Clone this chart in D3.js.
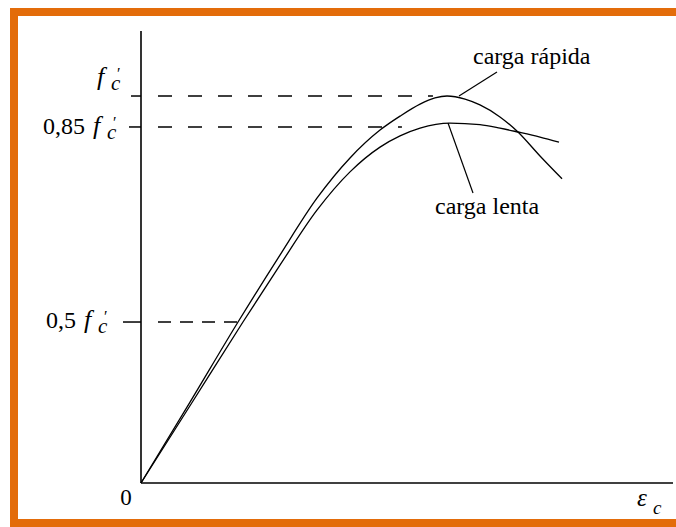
<!DOCTYPE html>
<html>
<head>
<meta charset="utf-8">
<script src="https://cdn.jsdelivr.net/npm/d3@7"></script>
<style>
  html, body { margin: 0; padding: 0; background: #fff; }
  svg { display: block; }
</style>
</head>
<body>
<svg id="chart" width="676" height="527"></svg>
<script>
// Stress–strain curves of concrete under fast and slow loading.
// Strain in ‰, stress relative to f'c (f'c = 1).
const strainRapida = [0, 0.387, 0.766, 1.097, 1.389, 1.650, 1.887, 2.045, 2.203, 2.321, 2.416, 2.558, 2.676, 2.834, 2.976, 3.150, 3.324];
const stressRapida = [0, 0.209, 0.416, 0.589, 0.736, 0.840, 0.912, 0.948, 0.979, 0.995, 1.0, 0.992, 0.977, 0.946, 0.907, 0.845, 0.786];

const strainLenta = [0, 0.403, 0.805, 1.097, 1.389, 1.650, 1.887, 2.045, 2.203, 2.439, 2.676, 2.834, 2.976, 3.150, 3.300];
const stressLenta = [0, 0.208, 0.416, 0.563, 0.705, 0.804, 0.868, 0.897, 0.917, 0.930, 0.926, 0.917, 0.907, 0.894, 0.881];

// Reference stress levels on the vertical axis and where their dashed guide ends
const refPrefix = ["0,5", "0,85", ""];
const refLevel  = [0.416, 0.92, 1.0];
const refEnd    = [0.805, 2.06, 2.305];

const FONT = "Liberation Serif, Times New Roman, serif";
const svg = d3.select("#chart").attr("font-family", FONT);
const orange = "#E36C0A";

// frame
svg.append("rect")
  .attr("x", 14).attr("y", 12).attr("width", 700).attr("height", 511)
  .attr("fill", "none").attr("stroke", orange).attr("stroke-width", 8);

const x = d3.scaleLinear().domain([0, 4.2]).range([141, 673]);
const y = d3.scaleLinear().domain([0, 1.168]).range([483, 31]);

// axes (plain lines, no numeric ticks)
svg.append("line")
  .attr("x1", x(0)).attr("x2", x(0)).attr("y1", y(0)).attr("y2", y(1.168))
  .attr("stroke", "#000").attr("stroke-width", 1.6);
svg.append("line")
  .attr("x1", x(0)).attr("x2", x(4.2)).attr("y1", y(0)).attr("y2", y(0))
  .attr("stroke", "#000").attr("stroke-width", 1.6);

// reference levels: ticks and dashed guides
const tickLen = [18, 12, 10];
const dash = ["13,9", "14,16", "14,16"];
refLevel.forEach((v, i) => {
  svg.append("line")
    .attr("x1", x(0) - tickLen[i]).attr("x2", x(0))
    .attr("y1", y(v)).attr("y2", y(v))
    .attr("stroke", "#000").attr("stroke-width", 1.5);
  svg.append("line")
    .attr("x1", x(0) + 17).attr("x2", x(refEnd[i]))
    .attr("y1", y(v)).attr("y2", y(v))
    .attr("stroke", "#000").attr("stroke-width", 1.5)
    .attr("stroke-dasharray", dash[i]);
});

// labels  "k f′c"
function fcLabel(prefix, fx, base) {
  if (prefix) {
    svg.append("text").attr("x", fx - 8).attr("y", base)
      .attr("text-anchor", "end").attr("font-size", 24).text(prefix);
  }
  svg.append("text").attr("x", fx).attr("y", base)
    .attr("font-size", 26).attr("font-style", "italic").text("f");
  svg.append("text").attr("x", fx + 20).attr("y", base - 6)
    .attr("font-size", 16).text("′");
  svg.append("text").attr("x", fx + 14).attr("y", base + 5)
    .attr("font-size", 21).attr("font-style", "italic").text("c");
}
fcLabel(refPrefix[0], 84, y(refLevel[0]) + 6);
fcLabel(refPrefix[1], 93, y(refLevel[1]) + 7);
fcLabel(refPrefix[2], 97, 85);

// origin and strain-axis labels
svg.append("text").attr("x", 126).attr("y", 505)
  .attr("text-anchor", "middle").attr("font-size", 23).text("0");
svg.append("text").attr("x", 637).attr("y", 506)
  .attr("font-size", 25).attr("font-style", "italic").text("ε");
svg.append("text").attr("x", 653).attr("y", 514)
  .attr("font-size", 19).attr("font-style", "italic").text("c");

// curves
const line = d3.line()
  .x(d => x(d[0])).y(d => y(d[1]))
  .curve(d3.curveMonotoneX);

svg.append("path")
  .datum(d3.zip(strainRapida, stressRapida))
  .attr("d", line)
  .attr("fill", "none").attr("stroke", "#000").attr("stroke-width", 1.3);
svg.append("path")
  .datum(d3.zip(strainLenta, stressLenta))
  .attr("d", line)
  .attr("fill", "none").attr("stroke", "#000").attr("stroke-width", 1.3);

// annotations with leader lines
svg.append("line")
  .attr("x1", 459).attr("y1", 96).attr("x2", 497).attr("y2", 72)
  .attr("stroke", "#000").attr("stroke-width", 1.2);
svg.append("text").attr("x", 473).attr("y", 64).attr("font-size", 24).text("carga rápida");

svg.append("line")
  .attr("x1", 448).attr("y1", 123).attr("x2", 473).attr("y2", 193)
  .attr("stroke", "#000").attr("stroke-width", 1.2);
svg.append("text").attr("x", 435).attr("y", 214).attr("font-size", 24).text("carga lenta");
</script>
</body>
</html>
